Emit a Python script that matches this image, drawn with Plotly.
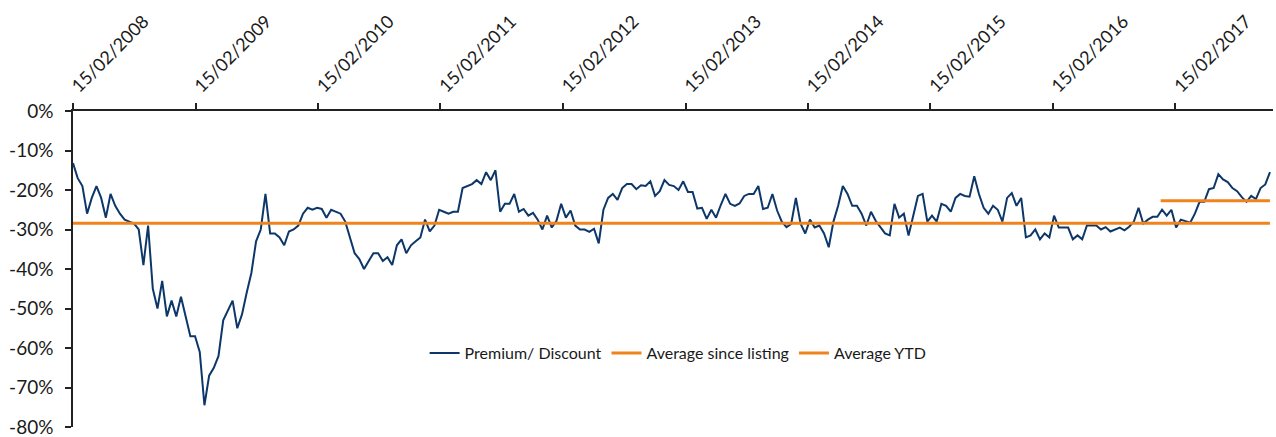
import pandas as pd
import plotly.graph_objects as go

# Fortnightly premium/discount to NAV (%), from listing on 15/02/2008
listing_date = "2008-02-15"
premium_discount = [
    -13.2, -17.0, -19.0, -26.0, -22.0, -19.0, -22.0, -27.0, -21.0, -24.0,
    -26.0, -27.5, -28.0, -28.5, -30.0, -39.0, -29.0, -45.0, -50.0, -43.0,
    -52.0, -48.0, -52.0, -47.0, -52.0, -57.0, -57.0, -61.0, -74.5, -67.0,
    -65.0, -62.0, -53.0, -50.5, -48.0, -55.0, -51.5, -46.0, -41.0, -33.0,
    -30.0, -21.0, -31.0, -31.0, -32.0, -34.0, -30.5, -30.0, -29.0, -26.0,
    -24.5, -25.0, -24.5, -24.8, -27.0, -25.0, -25.5, -26.0, -28.0, -32.0,
    -36.0, -37.5, -40.0, -38.0, -36.0, -36.0, -38.0, -37.0, -39.0, -34.0,
    -32.5, -36.0, -34.0, -33.0, -32.0, -27.5, -30.5, -29.0, -25.0, -25.5,
    -26.0, -25.5, -25.5, -19.5, -19.0, -18.5, -17.5, -18.5, -15.5, -17.5,
    -15.0, -25.5, -23.5, -23.5, -21.0, -25.5, -24.8, -26.5, -25.8, -27.5,
    -30.0, -26.5, -29.5, -27.8, -23.5, -27.0, -25.2, -29.0, -30.0, -30.0,
    -30.6, -29.8, -33.5, -25.0, -22.0, -21.0, -22.5, -19.5, -18.5, -18.5,
    -19.8, -18.8, -19.0, -17.8, -21.5, -20.3, -17.5, -18.7, -19.0, -20.0,
    -17.8, -20.5, -20.5, -24.7, -24.5, -27.3, -25.0, -27.0, -23.8, -21.0,
    -23.5, -24.0, -23.4, -21.5, -21.0, -21.0, -19.0, -24.8, -24.5, -21.0,
    -25.2, -28.0, -29.4, -28.6, -22.0, -28.5, -31.0, -27.5, -29.5, -29.0,
    -31.0, -34.5, -28.0, -24.0, -19.0, -21.0, -24.0, -24.0, -26.0, -29.0,
    -25.5, -27.8, -29.4, -31.0, -31.5, -23.5, -27.0, -26.0, -31.5, -26.8,
    -21.5, -21.0, -28.0, -26.5, -28.0, -23.5, -24.0, -25.5, -22.0, -21.0,
    -21.5, -21.7, -16.5, -21.0, -24.5, -26.0, -24.0, -25.0, -28.0, -22.0,
    -20.8, -24.0, -22.0, -32.0, -31.5, -30.0, -32.5, -31.0, -32.0, -26.5,
    -29.5, -29.5, -29.5, -32.5, -31.5, -32.5, -29.0, -29.0, -29.0, -30.0,
    -29.4, -30.5, -30.0, -29.5, -30.2, -29.3, -28.0, -24.5, -28.5, -27.5,
    -26.8, -26.8, -25.0, -26.5, -25.0, -29.5, -27.5, -28.0, -28.3, -26.0,
    -23.0, -23.0, -19.8, -19.5, -16.0, -17.3, -18.0, -19.5, -20.3, -21.8,
    -23.0, -21.5, -22.3, -19.5, -18.6, -15.5,
]
dates = pd.date_range(listing_date, periods=len(premium_discount), freq="14D")

# Averages (%)
avg_since_listing = -28.4
avg_ytd = -22.7
ytd_start = "2017-01-02"

# Axis ticks
x_tick_dates = [f"{y}-02-15" for y in range(2008, 2018)]
x_tick_labels = [f"15/02/{y}" for y in range(2008, 2018)]
y_tick_values = [0, -10, -20, -30, -40, -50, -60, -70, -80]
y_tick_labels = ["0%", "-10%", "-20%", "-30%", "-40%", "-50%", "-60%", "-70%", "-80%"]

navy = "#0c3768"
orange = "#f0841c"
end_date = dates[-1]

fig = go.Figure()
fig.add_trace(go.Scatter(
    x=dates, y=premium_discount, mode="lines", name="Premium/ Discount",
    line=dict(color=navy, width=2),
))
fig.add_trace(go.Scatter(
    x=[dates[0], end_date], y=[avg_since_listing, avg_since_listing],
    mode="lines", name="Average since listing",
    line=dict(color=orange, width=3),
))
fig.add_trace(go.Scatter(
    x=[pd.Timestamp(ytd_start), end_date], y=[avg_ytd, avg_ytd],
    mode="lines", name="Average YTD",
    line=dict(color=orange, width=3),
))

family = "Lato, 'Open Sans', sans-serif"
x_font = dict(family=family, size=18, color="#1a1a1a")
y_font = dict(family=family, size=19, color="#1a1a1a")
legend_font = dict(family=family, size=16, color="#1a1a1a")

fig.update_layout(
    width=1276, height=437,
    margin=dict(l=73, r=3, t=111, b=10, autoexpand=False),
    paper_bgcolor="white", plot_bgcolor="white",
    font=legend_font,
    showlegend=True,
    legend=dict(
        orientation="h", x=0.293, y=0.234, xanchor="left", yanchor="middle",
        font=legend_font, bgcolor="rgba(0,0,0,0)", itemwidth=30,
        tracegroupgap=0,
    ),
)
fig.update_xaxes(
    side="top", range=[listing_date, "2017-12-03"],
    tickvals=x_tick_dates, ticktext=x_tick_labels, tickangle=-45,
    ticks="outside", ticklen=6, tickwidth=1.5, tickcolor="#222",
    showline=True, linecolor="#222", linewidth=1.5,
    showgrid=False, zeroline=False, tickfont=x_font,
    ticklabeloverflow="allow", automargin=False,
)
fig.update_yaxes(
    range=[-80, 0], tickvals=y_tick_values, ticktext=y_tick_labels,
    ticks="outside", ticklen=6, tickwidth=1.5, tickcolor="#222",
    ticklabelstandoff=8, ticklabeloverflow="allow", automargin=False,
    showline=True, linecolor="#222", linewidth=1.5,
    showgrid=False, zeroline=False, tickfont=y_font,
)

fig.write_html("out.html")
